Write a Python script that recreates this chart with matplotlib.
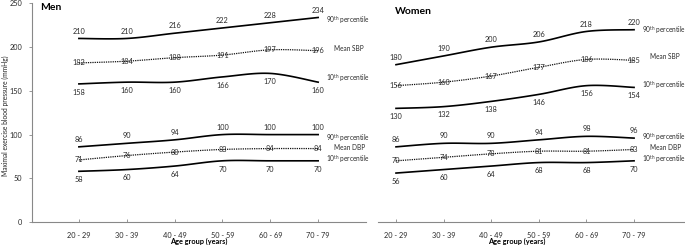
import numpy as np
import matplotlib
matplotlib.use("Agg")
import matplotlib.pyplot as plt

plt.rcParams['font.family'] = ['Lato', 'DejaVu Sans']
plt.rcParams['mathtext.fontset'] = 'custom'
plt.rcParams['mathtext.rm'] = 'Lato'

categories = ["20 - 29", "30 - 39", "40 - 49", "50 - 59", "60 - 69", "70 - 79"]

men_p90_sbp = [210, 210, 216, 222, 228, 234]
men_mean_sbp = [182, 184, 188, 191, 197, 196]
men_p10_sbp = [158, 160, 160, 166, 170, 160]
men_p90_dbp = [86, 90, 94, 100, 100, 100]
men_mean_dbp = [71, 76, 80, 83, 84, 84]
men_p10_dbp = [58, 60, 64, 70, 70, 70]

women_p90_sbp = [180, 190, 200, 206, 218, 220]
women_mean_sbp = [156, 160, 167, 177, 186, 185]
women_p10_sbp = [130, 132, 138, 146, 156, 154]
women_p90_dbp = [86, 90, 90, 94, 98, 96]
women_mean_dbp = [70, 74, 78, 81, 81, 83]
women_p10_dbp = [56, 60, 64, 68, 68, 70]

yticks = [0, 50, 100, 150, 200, 250]


def smooth(y, n=24, t=0.5):
    """Cardinal spline through the points (display smoothing like Excel)."""
    y = np.asarray(y, float)
    x = np.arange(len(y), dtype=float)
    P = np.column_stack([x, y])
    P = np.vstack([P[0], P, P[-1]])
    out = []
    for i in range(1, len(P) - 2):
        p0, p1, p2, p3 = P[i - 1], P[i], P[i + 1], P[i + 2]
        m1 = t * (p2 - p0)
        m2 = t * (p3 - p1)
        s = np.linspace(0, 1, n)[:, None]
        h00 = 2 * s**3 - 3 * s**2 + 1
        h10 = s**3 - 2 * s**2 + s
        h01 = -2 * s**3 + 3 * s**2
        h11 = s**3 - s**2
        seg = h00 * p1 + h10 * m1 + h01 * p2 + h11 * m2
        out.append(seg if i == 1 else seg[1:])
    out = np.vstack(out)
    return out[:, 0], out[:, 1]


W, H = 685, 245
fig = plt.figure(figsize=(W / 100, H / 100), dpi=100)

y0px, y1px = 222, 3.5
bottom = 1 - y0px / H
height = (y0px - y1px) / H

axm = fig.add_axes([32 / W, bottom, (366 - 32) / W, height])
axw = fig.add_axes([378 / W, bottom, (685 - 378) / W, height])

FS = 5.3
SFS = 4.7
OFF = 8.5
TXT = '#2a2a2a'


def draw(ax, series, side_labels, side_ys, lab_x):
    x = np.arange(len(categories))
    for vals, kind in series:
        xs, ys = smooth(vals)
        if kind == 'mean':
            ax.plot(xs, ys, color='#111111', lw=0.9, ls=(0, (1, 0.8)))
            for xi, v in zip(x, vals):
                ax.text(xi, v, str(v), fontsize=FS, ha='center', va='center', color=TXT)
        elif kind == 'hi':
            ax.plot(xs, ys, color='black', lw=1.2)
            for xi, v in zip(x, vals):
                ax.text(xi, v + OFF, str(v), fontsize=FS, ha='center', va='center', color=TXT)
        else:
            ax.plot(xs, ys, color='black', lw=1.2)
            for xi, v in zip(x, vals):
                ax.text(xi, v - OFF - 1, str(v), fontsize=FS, ha='center', va='center', color=TXT)
    for lab, yy, dx in zip(side_labels, side_ys, [0, 0.16, 0, 0, 0.16, 0]):
        ax.text(lab_x + dx, yy, lab, fontsize=SFS, ha='left', va='center', color=TXT,
                clip_on=False)
    ax.set_ylim(0, 250)
    ax.set_xticks(x)
    ax.set_xticklabels(categories, fontsize=FS, color=TXT)
    ax.tick_params(axis='x', direction='in', length=2, width=0.6, color='#888888', pad=7)
    for s in ['top', 'right']:
        ax.spines[s].set_visible(False)
    ax.spines['bottom'].set_color('#888888')
    ax.spines['bottom'].set_linewidth(0.8)


p90 = "90$^{\\mathrm{th}}$ percentile"
p10 = "10$^{\\mathrm{th}}$ percentile"

draw(axm,
     [(men_p90_sbp, 'hi'), (men_mean_sbp, 'mean'), (men_p10_sbp, 'lo'),
      (men_p90_dbp, 'hi'), (men_mean_dbp, 'mean'), (men_p10_dbp, 'lo')],
     [p90, "Mean SBP", p10, p90, "Mean DBP", p10],
     [231, 198, 165, 96, 84.7, 72], 5.17)
axm.set_xlim(-0.98, 6.0)
axm.set_yticks(yticks)
axm.set_yticklabels([str(v) for v in yticks], fontsize=FS, color=TXT)
axm.tick_params(axis='y', direction='out', length=2, width=0.6, color='#888888', pad=5)
axm.spines['left'].set_color('#888888')
axm.spines['left'].set_linewidth(0.8)

draw(axw,
     [(women_p90_sbp, 'hi'), (women_mean_sbp, 'mean'), (women_p10_sbp, 'lo'),
      (women_p90_dbp, 'hi'), (women_mean_dbp, 'mean'), (women_p10_dbp, 'lo')],
     [p90, "Mean SBP", p10, p90, "Mean DBP", p10],
     [219.7, 188.8, 156.7, 97.3, 84.7, 72], 5.17)
axw.set_xlim(-0.378, 6.07)
axw.spines['left'].set_visible(False)
axw.set_yticks([])

fig.text(5 / W, 1 - 116 / H, "Maximal exercise blood pressure (mmHg)", fontsize=4.8,
         rotation=90, ha='center', va='center', color='#222222')
fig.text(40 / W, 1 - 8 / H, "Men", fontsize=7.5, fontweight='bold', ha='left', va='center')
fig.text(395 / W, 1 - 12 / H, "Women", fontsize=7.5, fontweight='bold', ha='left', va='center')
fig.text(199 / W, 1 - 241 / H, "Age group (years)", fontsize=FS, fontweight='bold', ha='center', va='center')
fig.text(517 / W, 1 - 241 / H, "Age group (years)", fontsize=FS, fontweight='bold', ha='center', va='center')

fig.savefig("out.png", dpi=100)
